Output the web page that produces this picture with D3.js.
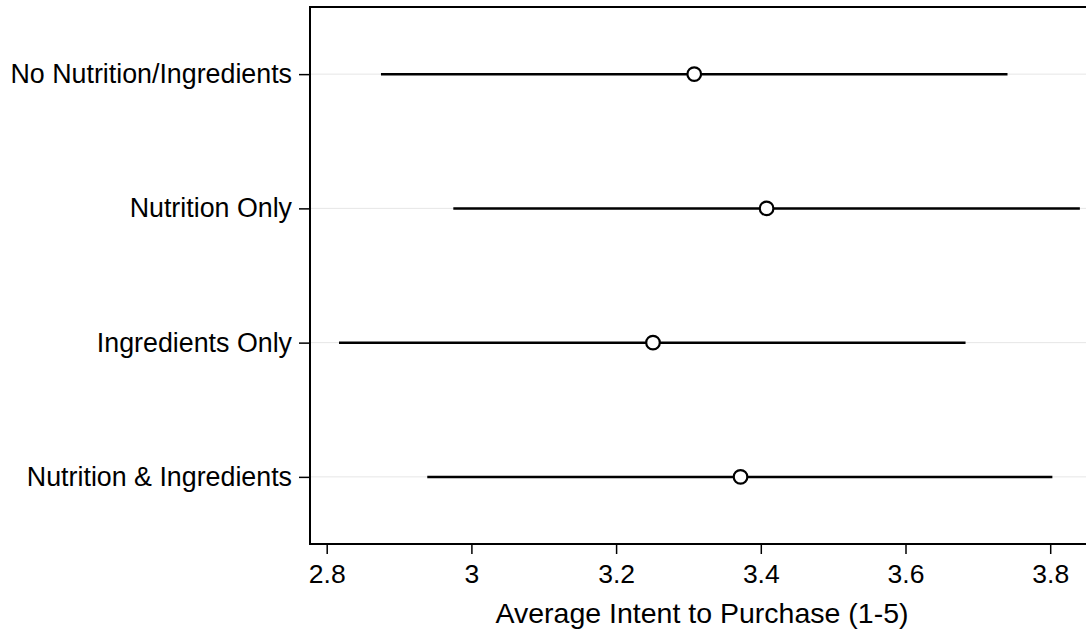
<!DOCTYPE html>
<html>
<head>
<meta charset="utf-8">
<script src="https://cdn.jsdelivr.net/npm/d3@7"></script>
<style>
  html, body { margin: 0; padding: 0; background: #fff; }
  svg { display: block; font-family: "Liberation Sans", Arial, Helvetica, sans-serif; }
</style>
</head>
<body>
<svg id="chart" width="1086" height="637"></svg>
<script>
const categories = ["No Nutrition/Ingredients", "Nutrition Only", "Ingredients Only", "Nutrition & Ingredients"];
const means = [3.308, 3.408, 3.251, 3.372];
const lower = [2.875, 2.975, 2.817, 2.939];
const upper = [3.741, 3.841, 3.683, 3.803];
const xTicks = [2.8, 3, 3.2, 3.4, 3.6, 3.8];
const xTitle = "Average Intent to Purchase (1-5)";

const W = 1086, H = 637;
const plot = { left: 310, top: 7, right: 1086, bottom: 544 };

const svg = d3.select("#chart");

const x = d3.scaleLinear().domain([2.8, 3.8]).range([326.7, 1050.2]);
const y = d3.scalePoint().domain(categories).range([plot.top, plot.bottom]).padding(0.5);

const rows = categories.map((c, i) => ({ cat: c, mean: means[i], lo: lower[i], hi: upper[i] }));

// gridlines
svg.append("g").selectAll("line").data(categories).join("line")
  .attr("x1", plot.left).attr("x2", plot.right)
  .attr("y1", d => y(d)).attr("y2", d => y(d))
  .attr("stroke", "#e6e6e6").attr("stroke-width", 1);

// top border
svg.append("line")
  .attr("x1", plot.left).attr("x2", plot.right)
  .attr("y1", plot.top).attr("y2", plot.top)
  .attr("stroke", "#000").attr("stroke-width", 2);

// x axis
const xAxis = svg.append("g")
  .attr("transform", `translate(0,${plot.bottom})`)
  .call(d3.axisBottom(x).tickValues(xTicks).tickFormat(d3.format("")).tickSize(10).tickPadding(8).tickSizeOuter(0));
xAxis.select(".domain").remove();
xAxis.selectAll(".tick line").attr("stroke", "#000").attr("stroke-width", 1.5);
xAxis.selectAll(".tick text").attr("font-size", 26.5).attr("fill", "#000")
  .attr("dy", 0).attr("y", 39);
svg.append("line")
  .attr("x1", plot.left - 1).attr("x2", plot.right)
  .attr("y1", plot.bottom).attr("y2", plot.bottom)
  .attr("stroke", "#000").attr("stroke-width", 2);

// y axis
const yAxis = svg.append("g")
  .attr("transform", `translate(${plot.left},0)`)
  .call(d3.axisLeft(y).tickSize(11).tickPadding(7).tickSizeOuter(0));
yAxis.select(".domain").remove();
yAxis.selectAll(".tick line").attr("stroke", "#000").attr("stroke-width", 1.5);
yAxis.selectAll(".tick text").attr("font-size", 26.8).attr("fill", "#000");
svg.append("line")
  .attr("x1", plot.left).attr("x2", plot.left)
  .attr("y1", plot.top - 1).attr("y2", plot.bottom + 1)
  .attr("stroke", "#000").attr("stroke-width", 2);

// CI lines
svg.append("g").selectAll("line").data(rows).join("line")
  .attr("x1", d => x(d.lo)).attr("x2", d => x(d.hi))
  .attr("y1", d => y(d.cat)).attr("y2", d => y(d.cat))
  .attr("stroke", "#000").attr("stroke-width", 2.5);

// mean markers
svg.append("g").selectAll("circle").data(rows).join("circle")
  .attr("cx", d => x(d.mean)).attr("cy", d => y(d.cat))
  .attr("r", 6.8)
  .attr("fill", "#fff").attr("stroke", "#000").attr("stroke-width", 2.2);

// x title
svg.append("text")
  .attr("x", 702).attr("y", 623)
  .attr("text-anchor", "middle")
  .attr("font-size", 28.5).attr("fill", "#000")
  .text(xTitle);
</script>
</body>
</html>
